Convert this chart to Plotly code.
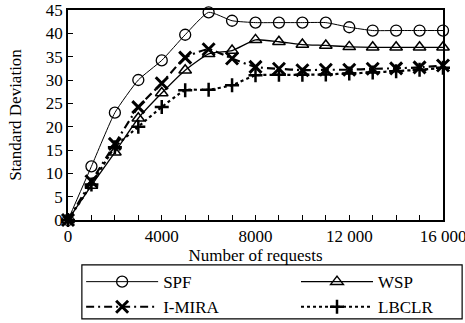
import plotly.graph_objects as go

requests = [0, 1000, 2000, 3000, 4000, 5000, 6000, 7000, 8000, 9000, 10000,
            11000, 12000, 13000, 14000, 15000, 16000]
spf = [0, 11.5, 23, 30, 34.2, 39.7, 44.5, 42.7, 42.3, 42.3, 42.3, 42.3, 41.3, 40.6, 40.6, 40.6, 40.6]
wsp = [0, 7.4, 14.5, 21.8, 27.2, 32.1, 35.6, 36.3, 38.6, 38.2, 37.6, 37.4, 37.1, 37.0, 37.0, 37.0, 37.0]
imira = [0, 8.3, 16.3, 24.2, 29.3, 34.8, 36.6, 34.6, 32.8, 32.4, 32.1, 32.2, 32.2, 32.4, 32.5, 32.7, 33.1]
lbclr = [0, 7.6, 15.6, 20.0, 24.2, 27.8, 27.9, 28.9, 31.0, 31.1, 31.1, 31.2, 31.4, 31.6, 31.9, 32.2, 32.6]

x_tickvals = [0, 4000, 8000, 12000, 16000]
x_ticktext = ["0", "4000", "8000", "12 000", "16 000"]
y_tickvals = [0, 5, 10, 15, 20, 25, 30, 35, 40, 45]

FONT = "Liberation Serif"

fig = go.Figure()

def add(name, y, symbol, dash, lw, mlw, msize, legend):
    fig.add_trace(go.Scatter(
        x=requests, y=y, name=name, mode="lines+markers",
        line=dict(color="black", width=lw, dash=dash, shape="spline", smoothing=0.5),
        marker=dict(symbol=symbol, size=msize, color="black",
                    line=dict(color="black", width=mlw)),
        cliponaxis=False, legend=legend,
    ))

add("SPF", spf, "circle-open", "solid", 1, 1.3, 11, "legend")
add("WSP", wsp, "triangle-up-open", "solid", 1.3, 1.5, 11, "legend2")
add("I-MIRA", imira, "x-thin-open", "8px,4px,2px,4px", 2.2, 3, 12, "legend")
add("LBCLR", lbclr, "cross-thin-open", "3px,3px", 2.2, 2.5, 10, "legend2")

leg_common = dict(
    orientation="v", yanchor="top", xanchor="left",
    borderwidth=0, bgcolor="rgba(0,0,0,0)",
    font=dict(family=FONT, size=17), itemwidth=72, tracegroupgap=0,
)

fig.update_layout(
    width=465, height=323,
    margin=dict(l=68, r=22, t=10, b=103, autoexpand=False),
    paper_bgcolor="white", plot_bgcolor="white",
    font=dict(family=FONT, size=16, color="black"),
    showlegend=True,
    legend=dict(x=0.035, y=-0.21, **leg_common),
    legend2=dict(x=0.608, y=-0.21, **leg_common),
    shapes=[dict(type="rect", xref="paper", yref="paper",
                 x0=0.037, x1=1.051, y0=-0.471, y1=-0.214,
                 line=dict(color="black", width=1.2), fillcolor="rgba(0,0,0,0)")],
    xaxis=dict(
        range=[0, 16000], tickvals=x_tickvals, ticktext=x_ticktext,
        ticks="inside", ticklen=5, tickcolor="black",
        minor=dict(dtick=1000, ticks="inside", ticklen=5, tickcolor="black"),
        showline=True, linecolor="black", linewidth=1.5, mirror=True,
        showgrid=False, zeroline=False, automargin=False,
        ticklabeloverflow="allow",
        title=dict(text="Number of requests", standoff=0, font=dict(family=FONT, size=17)),
        tickfont=dict(family=FONT, size=17),
    ),
    yaxis=dict(
        range=[0, 45], tickvals=y_tickvals,
        ticks="inside", ticklen=5, tickcolor="black",
        showline=True, linecolor="black", linewidth=1.5, mirror=True,
        showgrid=False, zeroline=False, automargin=False,
        title=dict(text="Standard Deviation", standoff=20, font=dict(family=FONT, size=17)),
        tickfont=dict(family=FONT, size=17),
    ),
)

fig.write_html("out.html", config={"displayModeBar": False},
               post_script="document.body.style.margin='0px';")
